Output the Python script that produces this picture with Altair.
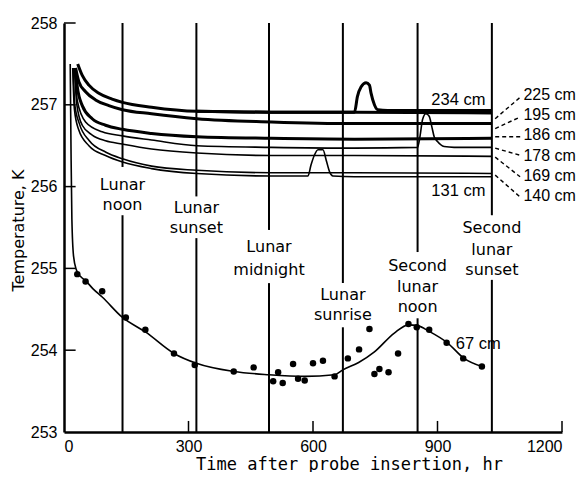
import altair as alt
import pandas as pd

WORD_FONT = "DejaVu Sans"
NUM_FONT = "Liberation Sans"
TITLE_FONT = "DejaVu Sans Mono"

# ---------------- data ----------------
# upper probe curves: time (hr) and temperature (K)
c225_t = [33, 44, 60, 84, 116, 141, 211, 320, 500, 700, 1031]
c225_v = [257.50, 257.36, 257.24, 257.14, 257.07, 257.03, 256.97, 256.92, 256.91, 256.91, 256.90]
c234_t = [320, 500, 700, 707, 716, 728, 736, 740, 748, 756, 780, 1031]
c234_v = [256.92, 256.91, 256.91, 257.10, 257.22, 257.27, 257.24, 257.14, 257.00, 256.94, 256.93, 256.93]
c195_t = [28, 36, 52, 76, 108, 141, 211, 320, 500, 700, 1031]
c195_v = [257.45, 257.28, 257.16, 257.06, 256.99, 256.94, 256.89, 256.83, 256.79, 256.77, 256.77]
c186_t = [27, 32, 44, 68, 100, 141, 211, 320, 500, 700, 1031]
c186_v = [257.45, 257.22, 256.99, 256.83, 256.75, 256.70, 256.65, 256.61, 256.59, 256.58, 256.59]
c178_t = [26, 32, 52, 92, 141, 211, 320, 500, 700, 852, 858, 864, 872, 880, 886, 892, 900, 916, 940, 1031]
c178_v = [257.45, 257.05, 256.79, 256.67, 256.62, 256.57, 256.50, 256.48, 256.47, 256.48,
          256.62, 256.82, 256.89, 256.86, 256.74, 256.61, 256.55, 256.49, 256.48, 256.48]
c169_t = [25, 31, 44, 68, 100, 141, 211, 320, 500, 700, 1031]
c169_v = [257.45, 257.00, 256.75, 256.63, 256.56, 256.52, 256.46, 256.41, 256.38, 256.38, 256.37]
c140_t = [22, 26, 37, 61, 101, 141, 211, 320, 500, 700, 1031]
c140_v = [257.45, 257.00, 256.77, 256.56, 256.42, 256.34, 256.25, 256.20, 256.17, 256.17, 256.16]
c131_t = [21, 25, 35, 60, 100, 141, 211, 320, 500, 588, 595, 603, 612, 624, 632, 640, 648, 700, 1031]
c131_v = [257.45, 256.95, 256.70, 256.50, 256.38, 256.30, 256.22, 256.16, 256.13, 256.13,
          256.26, 256.38, 256.45, 256.45, 256.32, 256.18, 256.13, 256.12, 256.12]

# 67 cm fitted curve
c67_t = [15, 17, 19, 23, 30, 40, 52, 70, 92, 141, 197, 265, 319, 409, 494, 580, 652, 672,
         710, 748, 796, 830, 852, 880, 924, 964, 1007]
c67_v = [257.50, 256.40, 255.60, 255.15, 254.98, 254.90, 254.85, 254.75, 254.65, 254.40, 254.22,
         253.96, 253.84, 253.74, 253.70, 253.68, 253.70, 253.76, 253.85, 253.98, 254.21, 254.31,
         254.30, 254.23, 254.09, 253.90, 253.80]

# 67 cm measured points
dot_t = [32, 52, 92, 149, 196, 265, 315, 409, 457, 504, 516, 527, 552, 564, 580, 600, 624, 652,
         684, 711, 736, 748, 760, 782, 805, 830, 850, 880, 922, 962, 1007]
dot_v = [254.93, 254.84, 254.72, 254.40, 254.25, 253.96, 253.82, 253.74, 253.79, 253.62, 253.73,
         253.60, 253.83, 253.65, 253.63, 253.84, 253.87, 253.68, 253.90, 254.01, 254.26, 253.71,
         253.77, 253.73, 253.96, 254.32, 254.28, 254.25, 254.09, 253.90, 253.80]

# lunar events
ev_t = [141, 319, 494, 672, 852, 1031]
ev_gap_top = [256.24, 255.88, 255.47, 254.82, 255.20, 255.65]
ev_gap_bot = [255.65, 255.37, 254.82, 254.28, 254.39, 254.86]
ev_text = [["Lunar", "noon"], ["Lunar", "sunset"], ["Lunar", "midnight"], ["Lunar", "sunrise"],
           ["Second", "lunar", "noon"], ["Second", "lunar", "sunset"]]
ev_text_y = [[256.02, 255.77], [255.74, 255.50], [255.26, 254.98], [254.67, 254.43],
             [255.03, 254.77, 254.53], [255.50, 255.22, 254.98]]

# right-hand depth labels with leaders
rl_text = ["225 cm", "195 cm", "186 cm", "178 cm", "169 cm", "140 cm"]
rl_y = [257.12, 256.87, 256.63, 256.37, 256.13, 255.88]
ld_t0 = [1039, 1039, 1039, 1039, 1039, 1039]
ld_v0 = [256.83, 256.71, 256.61, 256.47, 256.36, 256.14]
ld_t1 = [1101, 1099, 1101, 1101, 1099, 1102]
ld_v1 = [257.10, 256.85, 256.61, 256.38, 256.12, 255.86]
rl_x = 1107

# in-plot labels
il_text = ["234 cm", "131 cm", "67 cm"]
il_t = [885, 885, 944]
il_v = [257.06, 255.95, 254.08]

x_ticks = [0, 300, 600, 900, 1200]
y_ticks = [253, 254, 255, 256, 257, 258]

# ---------------- tables ----------------
def series(name, ts, vs):
    return pd.DataFrame({"s": name, "t": ts, "v": vs})

thick = pd.concat([series("225", c225_t, c225_v), series("234", c234_t, c234_v),
                   series("195", c195_t, c195_v), series("186", c186_t, c186_v)])
thin = pd.concat([series("178", c178_t, c178_v), series("169", c169_t, c169_v),
                  series("140", c140_t, c140_v), series("131", c131_t, c131_v),
                  series("67", c67_t, c67_v)])
dots = pd.DataFrame({"t": dot_t, "v": dot_v})

seg_rows = []
for t, gt, gb in zip(ev_t, ev_gap_top, ev_gap_bot):
    seg_rows.append({"t": t, "a": y_ticks[-1], "b": gt})
    seg_rows.append({"t": t, "a": gb, "b": y_ticks[0]})
segs = pd.DataFrame(seg_rows)

txt_rows = []
for t, lines, ys in zip(ev_t, ev_text, ev_text_y):
    for s, y in zip(lines, ys):
        txt_rows.append({"t": t, "v": y, "txt": s})
evtxt = pd.DataFrame(txt_rows)

right = pd.DataFrame({"t": [rl_x] * len(rl_text), "v": rl_y, "txt": rl_text})
leaders = pd.DataFrame({"t0": ld_t0, "v0": ld_v0, "t1": ld_t1, "v1": ld_v1})
inl = pd.DataFrame({"t": il_t, "v": il_v, "txt": il_text})

ytk = pd.DataFrame({"v": y_ticks[1:], "t0": 0, "t1": 28})
xtk = pd.DataFrame({"t": x_ticks[1:], "v0": 253.0, "v1": 253.135})

xs = alt.Scale(domain=[0, 1200], nice=False, zero=False)
ys = alt.Scale(domain=[253, 258], nice=False, zero=False)

x_axis = alt.Axis(
    values=x_ticks, format="d", ticks=False, grid=False, domainColor="black", domainWidth=2.5,
    labelFont=NUM_FONT, labelFontSize=16, labelColor="black", labelPadding=6,
    title="Time after probe insertion, hr", titleFont=TITLE_FONT, titleFontSize=17,
    titleFontWeight="normal", titleColor="black", titleX=285, titleY=37,
    titleAlign="center", titleBaseline="alphabetic")
y_axis = alt.Axis(
    values=y_ticks, format="d", ticks=False, grid=False, domainColor="black", domainWidth=2.5,
    labelFont=NUM_FONT, labelFontSize=16, labelColor="black", labelPadding=7,
    title="Temperature, K", titleFont=WORD_FONT, titleFontSize=16, titleFontWeight="normal",
    titleColor="black", titleX=-41, titleY=207, titleAngle=270, titleAlign="center",
    titleBaseline="alphabetic")

X = lambda f: alt.X(f, type="quantitative", scale=xs, axis=x_axis)
Y = lambda f: alt.Y(f, type="quantitative", scale=ys, axis=y_axis)

ev_lines = alt.Chart(segs).mark_rule(color="black", strokeWidth=2).encode(
    x=X("t"), y=Y("a"), y2="b")

thick_lines = alt.Chart(thick).mark_line(color="black", strokeWidth=3, interpolate="monotone").encode(
    x=X("t"), y=Y("v"), detail="s:N")
thin_lines = alt.Chart(thin).mark_line(color="black", strokeWidth=1.6, interpolate="monotone").encode(
    x=X("t"), y=Y("v"), detail="s:N")

dot_layer = alt.Chart(dots).mark_circle(color="black", size=42, opacity=1).encode(x=X("t"), y=Y("v"))

ev_label = alt.Chart(evtxt).mark_text(font=WORD_FONT, fontSize=16, color="black", align="center",
                                      baseline="middle").encode(x=X("t"), y=Y("v"), text="txt:N")

right_label = alt.Chart(right).mark_text(font=NUM_FONT, fontSize=16, color="black", align="left",
                                         baseline="middle").encode(x=X("t"), y=Y("v"), text="txt:N")

inl_label = alt.Chart(inl).mark_text(font=NUM_FONT, fontSize=16.5, color="black", align="left",
                                     baseline="middle").encode(x=X("t"), y=Y("v"), text="txt:N")

lead = alt.Chart(leaders).mark_rule(color="black", strokeWidth=1.4, strokeDash=[4, 3]).encode(
    x=X("t0"), y=Y("v0"), x2="t1", y2="v1")

ytick_layer = alt.Chart(ytk).mark_rule(color="black", strokeWidth=1.5).encode(x=X("t0"), x2="t1", y=Y("v"))
xtick_layer = alt.Chart(xtk).mark_rule(color="black", strokeWidth=1.5).encode(x=X("t"), y=Y("v0"), y2="v1")

chart = alt.layer(
    ev_lines, thick_lines, thin_lines, dot_layer, lead, ytick_layer, xtick_layer,
    ev_label, right_label, inl_label
).properties(
    width=498, height=409,
    padding={"left": 56, "top": 15, "right": 18, "bottom": 40},
    autosize=alt.AutoSizeParams(type="none"),
    background="white",
).configure_view(stroke=None)

chart.save("out.html", embed_options={"renderer": "svg", "actions": False})
